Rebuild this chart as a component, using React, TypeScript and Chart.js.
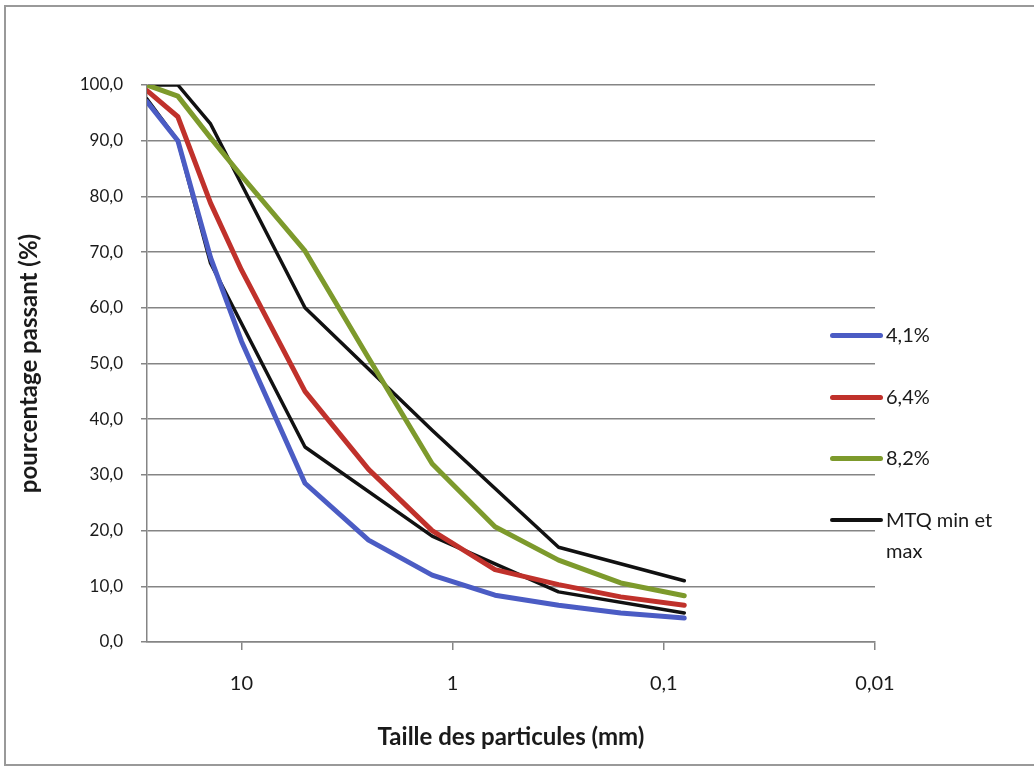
import React, { useEffect, useRef } from "react";
import { Chart, registerables } from "chart.js";

Chart.register(...registerables);

// Sieve sizes (mm)
const sizes = [28, 20, 14, 10, 5, 2.5, 1.25, 0.63, 0.315, 0.16, 0.08];
const pct41 = [97, 90, 69, 54, 28.5, 18.3, 12, 8.4, 6.6, 5.2, 4.3];
const pct64 = [99, 94.3, 78.8, 66.8, 45, 31, 20, 13, 10.3, 8.1, 6.6];
const pct82 = [100, 98, 90.5, 83.7, 70.2, 51, 32, 20.7, 14.7, 10.6, 8.3];

const mtqSizes = [28, 20, 14, 5, 1.25, 0.315, 0.08];
const mtqMin = [97.5, 90, 68, 35, 19, 9, 5.2];
const mtqMax = [100, 100, 93, 60, 38, 17, 11];

const xTicks = [10, 1, 0.1, 0.01];
const xTickLabels = ["10", "1", "0,1", "0,01"];

const seriesNames = ["4,1%", "6,4%", "8,2%", "MTQ min et max"];
const seriesColors = ["#4b5cc4", "#c0312b", "#7d9a2c", "#111111"];

const FONT = "Lato, 'Open Sans', sans-serif";
const GRID = "#858585";
const TEXT = "#1a1a1a";

function pts(xs: number[], ys: number[]) {
  return xs.map((x, i) => ({ x, y: ys[i] }));
}

export default function App() {
  const ref = useRef<HTMLCanvasElement | null>(null);

  useEffect(() => {
    if (!ref.current) return;
    const chart = new Chart(ref.current, {
      type: "line",
      data: {
        datasets: [
          { label: seriesNames[0], data: pts(sizes, pct41), borderColor: seriesColors[0], borderWidth: 5 },
          { label: seriesNames[1], data: pts(sizes, pct64), borderColor: seriesColors[1], borderWidth: 5 },
          { label: seriesNames[2], data: pts(sizes, pct82), borderColor: seriesColors[2], borderWidth: 5 },
          { label: seriesNames[3], data: pts(mtqSizes, mtqMin), borderColor: seriesColors[3], borderWidth: 3.5 },
          { label: seriesNames[3] + " (max)", data: pts(mtqSizes, mtqMax), borderColor: seriesColors[3], borderWidth: 3.5 },
        ].map((d) => ({ ...d, pointRadius: 0, tension: 0, fill: false, borderJoinStyle: "round" as const, borderCapStyle: "round" as const })),
      },
      options: {
        responsive: false,
        animation: false,
        layout: { padding: { top: 85, right: 159, left: 0, bottom: 0 } },
        plugins: { legend: { display: false }, tooltip: { enabled: false } },
        scales: {
          x: {
            type: "logarithmic",
            reverse: true,
            min: 0.01,
            max: 28,
            afterBuildTicks: (scale: any) => {
              scale.ticks = xTicks.map((v) => ({ value: v }));
            },
            afterFit: (scale: any) => {
              scale.height = 129;
            },
            ticks: {
              autoSkip: false,
              maxRotation: 0,
              padding: 22,
              color: TEXT,
              font: { family: FONT, size: 20 },
              callback: (v: any) => {
                const i = xTicks.indexOf(Number(v));
                return i >= 0 ? xTickLabels[i] : "";
              },
            },
            grid: { drawOnChartArea: false, color: GRID, lineWidth: 1.5, tickLength: 8 },
            border: { display: true, color: GRID, width: 1.5 },
            title: {
              display: true,
              text: "Taille des particules (mm)",
              color: TEXT,
              font: { family: FONT, size: 24, weight: "bold", lineHeight: 1.2 },
              padding: { top: 0, bottom: 19 },
            },
          },
          y: {
            min: 0,
            max: 100,
            afterFit: (scale: any) => {
              scale.width = 147;
            },
            ticks: {
              stepSize: 10,
              padding: 18,
              color: TEXT,
              font: { family: FONT, size: 17 },
              callback: (v: any) => Number(v).toFixed(1).replace(".", ","),
            },
            grid: { color: GRID, lineWidth: 1.5, tickLength: 6 },
            border: { display: true, color: GRID, width: 1.5 },
            title: {
              display: true,
              text: "pourcentage passant (%)",
              color: TEXT,
              font: { family: FONT, size: 24, weight: "bold", lineHeight: 1.2 },
              padding: { top: 15, bottom: 0 },
            },
          },
        },
      },
    });
    return () => chart.destroy();
  }, []);

  const legendTops = [335, 397, 458, 520];

  return (
    <div style={{ position: "absolute", left: 0, top: 0, width: 1034, height: 771, background: "#fff", overflow: "hidden" }}>
      <div
        style={{
          position: "absolute",
          left: 4,
          top: 5,
          width: 1040,
          height: 761,
          borderLeft: "2px solid #999",
          borderTop: "2px solid #999",
          borderBottom: "2px solid #999",
          boxSizing: "border-box",
        }}
      />
      <canvas ref={ref} width={1034} height={771} style={{ position: "absolute", left: 0, top: 0 }} />
      {seriesNames.map((name, i) => (
        <div key={name} style={{ position: "absolute", left: 830, top: legendTops[i] - 11, width: 200 }}>
          <div
            style={{
              position: "absolute",
              left: 0,
              top: 9,
              width: 53,
              height: i === 3 ? 3.5 : 5,
              borderRadius: 3,
              background: seriesColors[i],
            }}
          />
          <div
            style={{
              position: "absolute",
              left: 56,
              top: 0,
              width: 115,
              fontFamily: FONT,
              fontSize: 20,
              lineHeight: "31px",
              marginTop: -5,
              color: TEXT,
            }}
          >
            {name}
          </div>
        </div>
      ))}
    </div>
  );
}
